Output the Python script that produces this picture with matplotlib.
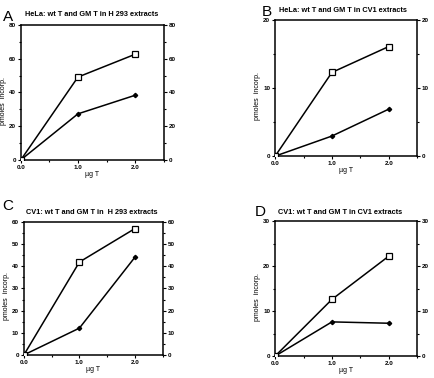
import matplotlib.pyplot as plt
from matplotlib.ticker import MultipleLocator

# x: µg T
dose = [0.0, 1.0, 2.0]

# panel data: open squares (wt T) and filled dots (GM T)
wt_A = [0, 49.1, 62.6]
gm_A = [0, 27.3, 38.3]
wt_B = [0, 12.3, 16.1]
gm_B = [0, 2.95, 6.9]
wt_C = [0, 41.9, 57.0]
gm_C = [0, 12.1, 44.1]
wt_D = [0, 12.6, 22.2]
gm_D = [0, 7.6, 7.3]

titles = ['HeLa: wt T and GM T in H 293 extracts',
          'HeLa: wt T and GM T in CV1 extracts',
          'CV1: wt T and GM T in  H 293 extracts',
          'CV1: wt T and GM T in CV1 extracts']
letters = ['A', 'B', 'C', 'D']
ymax = [80, 20, 60, 30]
ystep = [20, 10, 10, 10]

plt.rcParams['font.family'] = ['Liberation Sans', 'DejaVu Sans']
plt.rcParams['font.weight'] = 'bold'

W, H = 434, 378
fig = plt.figure(figsize=(W / 100, H / 100), dpi=100)
rects = [
    [0.048, 0.577, 0.329, 0.357],
    [0.634, 0.587, 0.327, 0.360],
    [0.055, 0.061, 0.320, 0.352],
    [0.634, 0.058, 0.327, 0.357],
]
# pixel positions (x, y from top) for titles and panel letters
title_pos = [(92, 15), (343, 11), (92, 213), (340, 213)]
letter_pos = [(3, 21), (262, 16), (2, 210), (255, 216)]
series = [(wt_A, gm_A), (wt_B, gm_B), (wt_C, gm_C), (wt_D, gm_D)]

for i in range(4):
    ax = fig.add_axes(rects[i])
    wt, gm = series[i]
    ax.plot(dose, gm, color='black', lw=1.1, marker='D', ms=2.2,
            mfc='black', mec='black', zorder=3)
    ax.plot(dose, wt, color='black', lw=1.1, marker='s', ms=4.2,
            mfc='white', mec='black', mew=0.9, zorder=4)
    ax.set_xlim(0, 2.5)
    ax.set_ylim(0, ymax[i])
    ax.xaxis.set_minor_locator(MultipleLocator(0.5))
    ax.yaxis.set_major_locator(MultipleLocator(ystep[i]))
    ax.yaxis.set_minor_locator(MultipleLocator(ystep[i] / 2))
    ax.set_xticks([0.0, 1.0, 2.0])
    ax.set_xticklabels(['0.0', '1.0', '2.0'])
    ax.tick_params(which='both', direction='out', right=True,
                   labelright=True, labelsize=4.5, width=0.8, pad=1.5)
    ax.tick_params(which='major', length=2)
    ax.tick_params(which='minor', length=1.5)
    for s in ax.spines.values():
        s.set_linewidth(1.1)
    ax.set_xlabel('µg T', fontsize=5, labelpad=1)
    ax.set_ylabel('pmoles  incorp.', fontsize=5, labelpad=0.5)
    ax.yaxis.set_label_coords(-0.1, 0.44)
    tx, ty = title_pos[i]
    fig.text(tx / W, 1 - ty / H, titles[i], fontsize=5.3, fontweight='bold',
             ha='center', va='center')
    lx, ly = letter_pos[i]
    fig.text(lx / W, 1 - ly / H, letters[i], fontsize=11,
             fontweight='normal', ha='left', va='baseline')

fig.savefig('out.png', dpi=100)
